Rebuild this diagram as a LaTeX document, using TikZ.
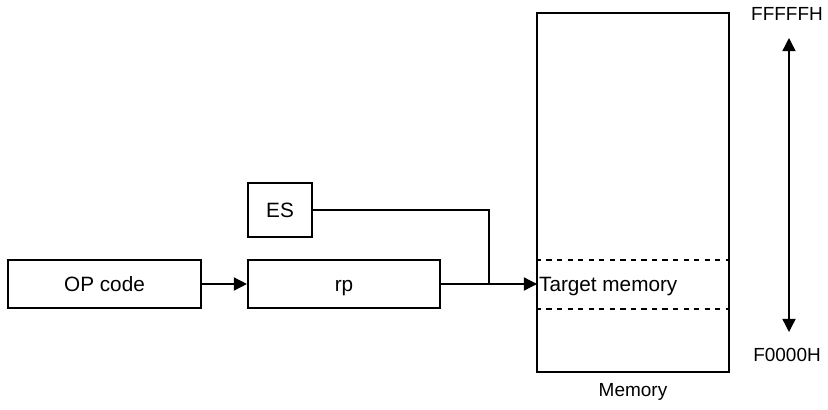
\documentclass[tikz,border=0pt]{standalone}
\usepackage{fontspec}
\setmainfont{Liberation Sans}
\usetikzlibrary{positioning, arrows.meta}

\tikzset{
  regbox/.style={draw, line width=1.2pt, minimum height=48*0.02cm, inner sep=0pt, text height=8.5pt, text depth=0pt},
  lbl/.style={font=\fontsize{10.8}{12}\selectfont},
  conn/.style={line width=0.8pt},
  arr/.style={conn, -{Triangle[length=7.5pt, width=7.5pt]}}
}

\begin{document}
\begin{tikzpicture}[x=0.02cm, y=-0.02cm, font=\fontsize{11.8}{13}\selectfont]
  \useasboundingbox (0,0) rectangle (828,409);
  % Memory block
  \node[draw, line width=1.2pt, minimum width=192*0.02cm, minimum height=359*0.02cm, inner sep=0pt] (mem) at (633,192.5) {};
  \node[lbl] (memlbl) at (633,392) {Memory};
  % Target area
  \draw[conn, dashed] (mem.west |- 0,260) -- (mem.east |- 0,260);
  \draw[conn, dashed] (mem.west |- 0,309) -- (mem.east |- 0,309);
  \node[anchor=west, inner sep=1pt, text height=8.5pt, text depth=0pt] (tgt) at (537,284) {Target memory};
  % Registers
  \node[regbox, minimum width=193*0.02cm] (op) at (104.5,284) {OP code};
  \node[regbox, minimum width=192*0.02cm] (rp) at (344,284) {rp};
  \node[regbox, minimum width=64*0.02cm, minimum height=54*0.02cm] (es) at (280,210) {ES};
  % Connectors
  \coordinate (join) at (489,284);
  \draw[arr] (op.east |- 0,284) -- (rp.west |- 0,284);
  \draw[arr] (rp.east |- 0,284) -- (tgt.west);
  \draw[conn] (es.east) -| (join);
  % Address range
  \node[lbl] (hi) at (787,14) {FFFFFH};
  \node[lbl] (lo) at (787,355) {F0000H};
  \draw[conn, {Triangle[length=7.5pt, width=7.5pt]}-{Triangle[length=7.5pt, width=7.5pt]}] (789,38) -- (789,332);
\end{tikzpicture}
\end{document}
